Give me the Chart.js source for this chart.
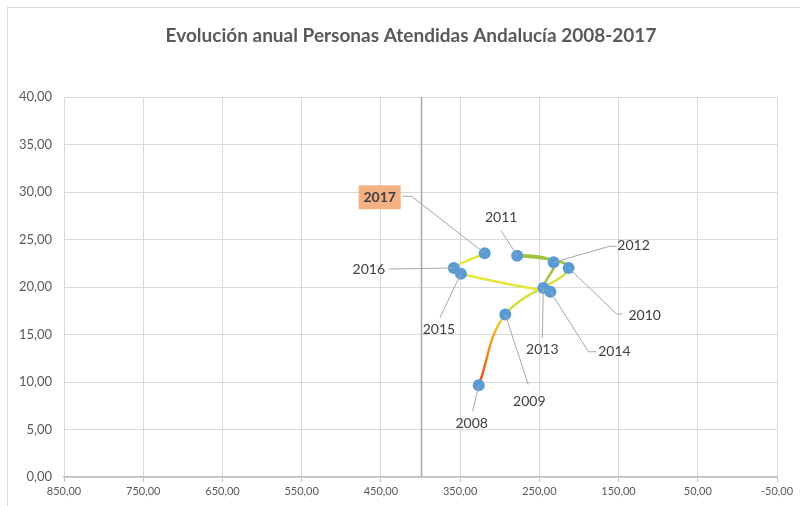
<!DOCTYPE html>
<html>
<head>
<meta charset="utf-8">
<script src="https://cdn.jsdelivr.net/npm/chart.js@4/dist/chart.umd.min.js"></script>
<style>
  html, body { margin: 0; padding: 0; background: #fff; }
  #wrap { position: relative; width: 800px; height: 506px; }
  #frame { position: absolute; left: 7px; top: 7px; width: 800px; height: 520px; border: 1px solid #D9D9D9; box-sizing: border-box; }
</style>
</head>
<body>
<div id="wrap">
  <div id="frame"></div>
  <canvas id="chart" width="800" height="506"></canvas>
</div>
<script>
const years = ["2008", "2009", "2010", "2011", "2012", "2013", "2014", "2015", "2016", "2017"];
const xValues = [326.5, 293, 213, 278, 232, 245, 236, 349, 358, 319];
const yValues = [9.65, 17.1, 22.0, 23.3, 22.6, 19.9, 19.5, 21.4, 22.0, 23.55];
const axisCrossX = 400;
const titleText = "Evolución anual Personas Atendidas Andalucía 2008-2017";

// colour of each line segment, segment 0 is a gradient
const segColors = ["", "#D6E03A", "#9DC43C", "#9DC43C", "#9DC43C", "#C9DC34", "#E4E83A", "#E4E83A", "#E4E83A"];

// leader line points and text centre, relative to the point
const labelLayout = [
  { path: [[-6, 26]], text: [-7, 38] },
  { path: [[23, 70]], text: [24, 87] },
  { path: [[48, 46], [54, 46]], text: [76, 47] },
  { path: [[-16, -25]], text: [-16, -38] },
  { path: [[56, -16], [63, -16]], text: [80, -17] },
  { path: [[-1, 50]], text: [-1, 62] },
  { path: [[38, 60], [46, 60]], text: [64, 60] },
  { path: [[-21, 44]], text: [-22, 56] },
  { path: [[-65, 1]], text: [-85, 1] },
  { path: [[-73, -57], [-82, -57]], text: [-105, -56], boxed: true }
];

const fmt = (v) => v.toFixed(2).replace(".", ",");

const crossLine = {
  id: "crossLine",
  beforeDatasetsDraw(chart) {
    const { ctx, chartArea, scales } = chart;
    const x = Math.round(scales.x.getPixelForValue(axisCrossX)) + 0.5;
    ctx.save();
    ctx.strokeStyle = "#A6A6A6";
    ctx.lineWidth = 1.5;
    ctx.beginPath();
    ctx.moveTo(x, chartArea.top);
    ctx.lineTo(x, chartArea.bottom);
    ctx.stroke();
    ctx.restore();
  }
};

const titlePlugin = {
  id: "titlePlugin",
  afterDraw(chart) {
    const { ctx } = chart;
    ctx.save();
    ctx.font = "bold 19px Lato, 'Open Sans', sans-serif";
    ctx.fillStyle = "#595959";
    ctx.textAlign = "center";
    ctx.textBaseline = "middle";
    ctx.fillText(titleText, 411, 36);
    ctx.restore();
  }
};

const yearLabels = {
  id: "yearLabels",
  afterDatasetsDraw(chart) {
    const { ctx } = chart;
    const meta = chart.getDatasetMeta(0);
    ctx.save();
    meta.data.forEach((pt, i) => {
      const lay = labelLayout[i];
      ctx.strokeStyle = "#A6A6A6";
      ctx.lineWidth = 1;
      ctx.beginPath();
      ctx.moveTo(pt.x, pt.y);
      lay.path.forEach(([dx, dy]) => ctx.lineTo(pt.x + dx, pt.y + dy));
      ctx.stroke();
      const tx = pt.x + lay.text[0];
      const ty = pt.y + lay.text[1];
      ctx.textAlign = "center";
      ctx.textBaseline = "middle";
      if (lay.boxed) {
        ctx.font = "bold 14px Lato, 'Open Sans', sans-serif";
        ctx.fillStyle = "#F4B183";
        ctx.fillRect(tx - 21, ty - 12, 42, 24);
        ctx.fillStyle = "#404040";
      } else {
        ctx.font = "14px Lato, 'Open Sans', sans-serif";
        ctx.fillStyle = "#404040";
      }
      ctx.fillText(years[i], tx, ty);
    });
    ctx.restore();
  }
};

new Chart(document.getElementById("chart").getContext("2d"), {
  type: "scatter",
  data: {
    datasets: [{
      label: "Personas Atendidas",
      data: xValues.map((x, i) => ({ x, y: yValues[i] })),
      showLine: true,
      tension: 0.4,
      borderWidth: 2.5,
      borderColor: "#E4E83A",
      pointBackgroundColor: "#5B9BD5",
      pointBorderWidth: 0,
      pointRadius: 6,
      segment: {
        borderColor: (c) => {
          const i = c.p0DataIndex;
          if (i === 0) {
            const g = c.chart.ctx.createLinearGradient(c.p0.x, c.p0.y, c.p1.x, c.p1.y);
            g.addColorStop(0, "#E4461C");
            g.addColorStop(0.55, "#F29A1F");
            g.addColorStop(1, "#E2E23A");
            return g;
          }
          return segColors[i];
        }
      }
    }]
  },
  options: {
    responsive: false,
    animation: false,
    layout: { padding: { left: 8, right: 23, top: 97, bottom: 8 } },
    plugins: {
      legend: { display: false },
      tooltip: { enabled: false },
      title: { display: false }
    },
    scales: {
      x: {
        type: "linear",
        reverse: true,
        min: -50,
        max: 850,
        afterBuildTicks: (s) => { s.ticks = [850, 750, 650, 550, 450, 350, 250, 150, 50, -50].map((v) => ({ value: v })); },
        afterFit: (s) => { s.height = 21; },
        border: { color: "#BFBFBF", width: 1.5 },
        grid: { color: "#D9D9D9", tickLength: 5, tickColor: "#BFBFBF" },
        ticks: {
          color: "#595959",
          font: { family: "Lato, 'Open Sans', sans-serif", size: 11 },
          maxRotation: 0,
          padding: 3,
          callback: (v) => fmt(v)
        }
      },
      y: {
        min: 0,
        max: 40,
        afterFit: (s) => { s.width = 56; },
        border: { display: false },
        grid: { color: "#D9D9D9", drawTicks: false },
        ticks: {
          stepSize: 5,
          color: "#595959",
          font: { family: "Lato, 'Open Sans', sans-serif", size: 13 },
          padding: 12,
          callback: (v) => fmt(v)
        }
      }
    }
  },
  plugins: [crossLine, yearLabels, titlePlugin]
});
</script>
</body>
</html>
